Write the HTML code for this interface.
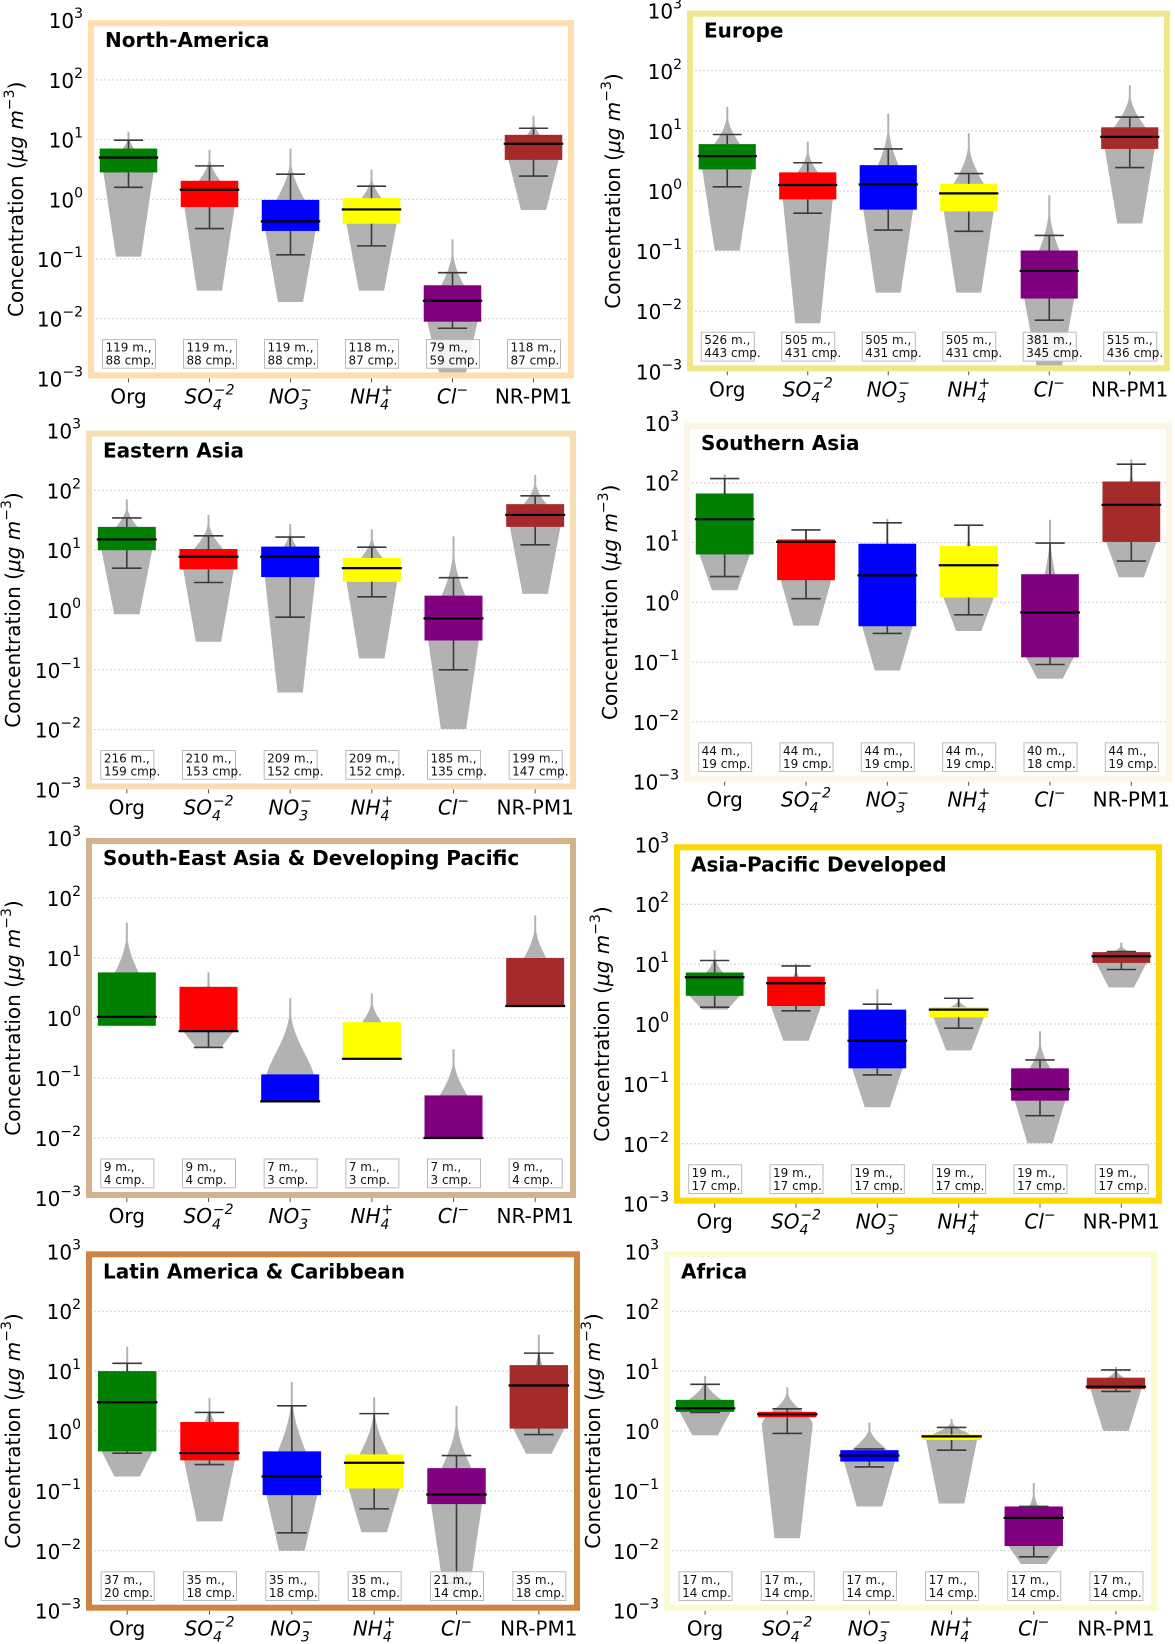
<!DOCTYPE html>
<html><head><meta charset="utf-8">
<style>
html,body{margin:0;padding:0;background:#fff;}
svg{display:block;font-family:"DejaVu Sans","Liberation Sans",sans-serif;}
</style></head>
<body>
<svg id="fig" width="1175" height="1644" viewBox="0 0 1175 1644" xmlns="http://www.w3.org/2000/svg"></svg>
<script>
// ---- data (log10 of concentration, µg m-3), rows = panels, cols = Org, SO4, NO3, NH4, Cl, NR-PM1 ----
const regions = ["North-America","Europe","Eastern Asia","Southern Asia","South-East Asia & Developing Pacific","Asia-Pacific Developed","Latin America & Caribbean","Africa"];
const species = ["Org","SO4","NO3","NH4","Cl","NR-PM1"];
const violinMaxLog = [
 [1.13,0.83,0.85,0.50,-0.67,1.40],
 [1.40,0.82,1.29,0.96,-0.07,1.76],
 [1.85,1.59,1.44,1.35,1.23,2.26],
 [2.14,1.22,1.40,1.29,1.38,2.39],
 [1.59,0.76,0.33,0.41,-0.52,1.71],
 [1.23,1.01,0.58,0.44,-0.12,1.36],
 [1.41,0.55,0.82,0.56,0.42,1.61],
 [0.92,0.73,0.14,0.20,-0.87,1.07]];
const violinMinLog = [
 [-0.96,-1.53,-1.72,-1.53,-2.97,-0.18],
 [-0.99,-2.20,-1.69,-1.69,-2.92,-0.54],
 [-0.07,-0.53,-1.38,-0.81,-1.99,0.27],
 [0.20,-0.39,-1.14,-0.48,-1.28,0.42],
 [-0.13,-0.49,-1.39,-0.68,-2.00,0.20],
 [0.24,-0.28,-1.39,-0.44,-1.99,0.61],
 [-0.76,-1.51,-2.00,-1.69,-2.68,-0.38],
 [-0.07,-1.79,-1.26,-1.21,-2.22,0.00]];
const whiskerHiLog = [
 [0.99,0.56,0.42,0.22,-1.23,1.19],
 [0.94,0.47,0.70,0.29,-0.74,1.23],
 [1.54,1.24,1.22,1.05,0.54,1.91],
 [2.07,1.21,1.33,1.29,0.99,2.31],
 [null,null,null,null,null,null],
 [1.06,0.97,0.33,0.43,-0.60,1.21],
 [1.13,0.31,0.42,0.29,-0.41,1.30],
 [0.78,0.37,-0.30,0.06,-1.26,1.02]];
const whiskerLoLog = [
 [0.20,-0.49,-0.93,-0.78,-2.16,0.39],
 [0.07,-0.37,-0.65,-0.67,-2.15,0.39],
 [0.70,0.46,-0.12,0.22,-1.00,1.09],
 [0.43,0.06,-0.52,-0.21,-1.04,0.69],
 [null,-0.49,null,null,null,null],
 [0.28,0.22,-0.85,-0.07,-1.53,0.91],
 [-0.37,-0.56,-1.70,-1.30,-2.54,-0.06],
 [0.31,-0.04,-0.60,-0.32,-2.10,0.66]];
const q3Log = [
 [0.85,0.31,-0.01,0.02,-1.44,1.08],
 [0.78,0.31,0.43,0.12,-0.99,1.06],
 [1.39,1.02,1.06,0.87,0.24,1.77],
 [1.82,1.05,0.98,0.94,0.47,2.02],
 [0.76,0.52,-0.94,-0.07,-1.29,1.00],
 [0.86,0.79,0.24,0.28,-0.74,1.20],
 [1.00,0.15,-0.34,-0.39,-0.62,1.10],
 [0.52,0.32,-0.32,-0.06,-1.26,0.89]];
const q1Log = [
 [0.45,-0.13,-0.53,-0.41,-2.05,0.66],
 [0.36,-0.14,-0.31,-0.34,-1.79,0.70],
 [1.00,0.68,0.55,0.47,-0.51,1.39],
 [0.80,0.37,-0.40,0.08,-0.92,1.01],
 [-0.13,-0.22,-1.39,-0.68,-2.00,0.20],
 [0.47,0.30,-0.74,0.11,-1.28,1.02],
 [-0.34,-0.49,-1.07,-0.96,-1.22,0.04],
 [0.32,0.23,-0.51,-0.15,-1.92,0.70]];
const medianLog = [
 [0.70,0.16,-0.37,-0.17,-1.70,0.93],
 [0.58,0.10,0.11,-0.04,-1.33,0.90],
 [1.18,0.89,0.89,0.70,-0.14,1.59],
 [1.39,1.01,0.45,0.62,-0.17,1.63],
 [0.02,-0.22,-1.39,-0.68,-2.00,0.20],
 [0.78,0.68,-0.28,0.24,-1.09,1.13],
 [0.48,-0.37,-0.76,-0.53,-1.06,0.76],
 [0.38,0.28,-0.41,-0.09,-1.45,0.74]];
const nMeasurements = [
 [119,119,119,118,79,118],[526,505,505,505,381,515],[216,210,209,209,185,199],[44,44,44,44,40,44],
 [9,9,7,7,7,9],[19,19,19,19,19,19],[37,35,35,35,21,35],[17,17,17,17,17,17]];
const nCampaigns = [
 [88,88,88,87,59,87],[443,431,431,431,345,436],[159,153,152,152,135,147],[19,19,19,19,18,19],
 [4,4,3,3,3,4],[17,17,17,17,17,17],[20,18,18,18,14,18],[14,14,14,14,14,14]];
const yTickExps = [3,2,1,0,-1,-2,-3];
const gridExps = [2,1,0,-1,-2];

// ---- layout ----
const layout = [
 {left:88,right:574,y0:199.3,dec:59.7,border:"#ffdead",lx:16},
 {left:687,right:1170,y0:191,dec:60.1,border:"#f0e68c",lx:613},
 {left:86,right:576,y0:610,dec:59.8,border:"#f5deb3",lx:13},
 {left:684,right:1172,y0:602.3,dec:59.8,border:"#fdf5e6",lx:610},
 {left:86,right:576,y0:1018,dec:60,border:"#d2b48c",lx:13},
 {left:674,right:1162,y0:1024,dec:59.9,border:"#ffd700",lx:602},
 {left:86,right:580,y0:1431,dec:59.9,border:"#cd853f",lx:13},
 {left:664,right:1157,y0:1431,dec:59.9,border:"#fafad2",lx:593}];
const boxColors = ["#008000","#ff0000","#0000ff","#ffff00","#800080","#a52a2a"];
const NS="http://www.w3.org/2000/svg";
const svg=document.getElementById("fig");
function mk(tag,attrs,parent){const e=document.createElementNS(NS,tag);for(const k in attrs)e.setAttribute(k,attrs[k]);(parent||svg).appendChild(e);return e;}

layout.forEach((L,p)=>{
  const top=L.y0-3*L.dec, bot=L.y0+3*L.dec;
  const slot=(L.right-L.left)/6;
  const yS=v=>L.y0-v*L.dec;
  const xS=i=>L.left+(i+0.5)*slot;
  const g=mk("g",{});
  
  
  const cp=mk("clipPath",{id:"clip"+p},g);
  mk("rect",{x:L.left,y:top,width:L.right-L.left,height:bot-top},cp);
  gridExps.forEach(e=>{
    const gl=mk("line",{x1:L.left,x2:L.right,y1:yS(e),y2:yS(e),stroke:"#cfcfcf","stroke-width":1,"stroke-dasharray":"2,2"},g);
    
    
  });
  const plot=mk("g",{"clip-path":"url(#clip"+p+")"},g);
  for(let i=0;i<6;i++){
    const cx=xS(i);
    const vt=yS(violinMaxLog[p][i]), vb=yS(violinMinLog[p][i]), q1y=yS(q1Log[p][i]);
    const W=slot*0.62;
    let pp=(q1y-vt)/(vb-vt); pp=Math.max(0.25,Math.min(0.85,pp));
    const right=[],leftPts=[];
    for(let k=0;k<=50;k++){
      const t=k/50, yy=vt+t*(vb-vt);
      let w = t<pp ? W*(1-Math.cos(Math.PI*Math.pow(t/pp,1.3)))/2 : W*(1-0.5*(t-pp)/(1-pp));
      w=Math.max(w,2);
      right.push((cx+w/2).toFixed(1)+","+yy.toFixed(1));
      leftPts.unshift((cx-w/2).toFixed(1)+","+yy.toFixed(1));
    }
    const vio=mk("polygon",{points:right.concat(leftPts).join(" "),fill:"#b2b2b2"},plot);
    
    
    const bw=slot*0.71;
    const q3y=yS(q3Log[p][i]);
    const bx=mk("rect",{x:cx-bw/2,y:q3y,width:bw,height:Math.max(q1y-q3y,1),fill:boxColors[i]},plot);
    
    
    const cw=slot*0.36;
    if(whiskerHiLog[p][i]!==null){
      const wy=yS(whiskerHiLog[p][i]);
      const w1=mk("path",{d:`M${cx},${q3y}V${wy}M${cx-cw/2},${wy}H${cx+cw/2}`,stroke:"#3a3a3a","stroke-width":1.6,fill:"none"},plot);
      
      
    }
    if(whiskerLoLog[p][i]!==null){
      const wy=yS(whiskerLoLog[p][i]);
      const w2=mk("path",{d:`M${cx},${q1y}V${wy}M${cx-cw/2},${wy}H${cx+cw/2}`,stroke:"#3a3a3a","stroke-width":1.6,fill:"none"},plot);
      
      
    }
    const my=yS(medianLog[p][i]);
    const md=mk("line",{x1:cx-bw/2-1,x2:cx+bw/2+1,y1:my,y2:my,stroke:"#000","stroke-width":2.2},plot);
    
    
    const ay=yS(-2.35), ah=yS(-2.83)-ay;
    const ab=mk("rect",{x:cx-26,y:ay,width:53,height:ah,fill:"#fff","fill-opacity":0.85,stroke:"#bbb","stroke-width":1},g);
    
    
    const t1=mk("text",{x:cx-23,y:ay+12,"font-size":12,fill:"#111"},g);
    t1.textContent=nMeasurements[p][i]+" m.,";
    
    
    const t2=mk("text",{x:cx-23,y:ay+25,"font-size":12,fill:"#111"},g);
    t2.textContent=nCampaigns[p][i]+" cmp.";
    
    
    mk("line",{x1:cx,x2:cx,y1:bot,y2:bot+4,stroke:"#555","stroke-width":1},g);
    const xl=mk("text",{x:cx,y:bot+25,"font-size":20,"text-anchor":"middle",fill:"#000"},g);
    
    
    const lab=species[i];
    if(lab==="Org"||lab==="NR-PM1"){xl.textContent=lab;}
    else{
      const base={SO4:"SO",NO3:"NO",NH4:"NH",Cl:"Cl"}[lab];
      const sub={SO4:"4",NO3:"3",NH4:"4",Cl:""}[lab];
      const sup={SO4:"−2",NO3:"−",NH4:"+",Cl:"−"}[lab];
      xl.setAttribute("font-style","italic");
      const a=mk("tspan",{},xl);a.textContent=base;
      if(sub){const b=mk("tspan",{"font-size":14,dy:6},xl);b.textContent=sub;
        const c=mk("tspan",{"font-size":14,dx:-8,dy:-15},xl);c.textContent=sup;}
      else{const c=mk("tspan",{"font-size":14,dy:-9},xl);c.textContent=sup;}
    }
  }
  const fr=mk("rect",{x:L.left+3,y:top+3,width:L.right-L.left-6,height:bot-top-6,fill:"none",stroke:L.border,"stroke-width":6},g);
  
  
  yTickExps.forEach(e=>{
    const t=mk("text",{x:L.left-5,y:yS(e)+8,"font-size":20,"text-anchor":"end",fill:"#000"},g);
    
    
    const a=mk("tspan",{},t);a.textContent="10";
    const b=mk("tspan",{"font-size":14,dy:-10},t);b.textContent=e<0?"−"+(-e):String(e);
  });
  const cy=(top+bot)/2;
  const yl=mk("text",{x:L.lx,y:cy,"font-size":20,"text-anchor":"middle",transform:`rotate(-90 ${L.lx} ${cy})`,dy:7,fill:"#000"},g);
  
  
  const s1=mk("tspan",{},yl);s1.textContent="Concentration (";
  const s2=mk("tspan",{"font-style":"italic"},yl);s2.textContent="μg m";
  const s3=mk("tspan",{"font-size":14,dy:-9},yl);s3.textContent="−3";
  const s4=mk("tspan",{dy:9},yl);s4.textContent=")";
  const ti=mk("text",{x:L.left+17,y:top+27,"font-size":20,"font-weight":"bold",fill:"#000"},g);
  ti.textContent=regions[p];
  
  
});
</script>
</body></html>
